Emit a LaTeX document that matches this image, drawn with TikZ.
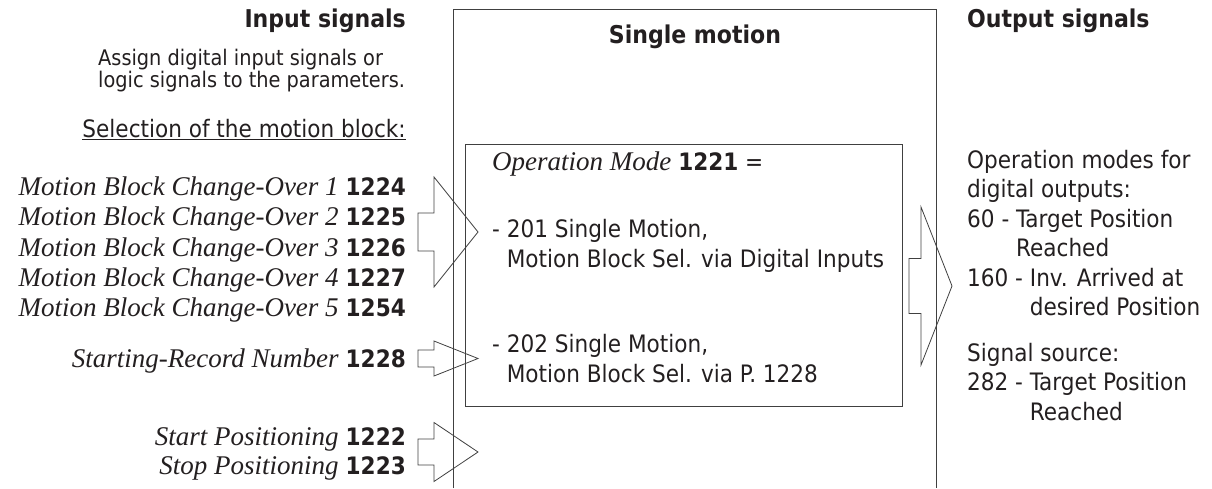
\documentclass[tikz,border=0pt]{standalone}
\usepackage{fontspec}
\setmainfont{DejaVu Sans Condensed}
\newfontfamily\serifface{Liberation Serif}
\usepackage{tikz}
\usetikzlibrary{positioning}
\usepackage{xcolor}
\definecolor{ink}{HTML}{231F20}
\definecolor{edge}{HTML}{404040}

% parameter name (serif italic) followed by its number (bold)
\newcommand{\prm}[2]{{\fontsize{27}{30}\selectfont\serifface\itshape #1}\hspace{7pt}\textbf{#2}}
% hollow block arrow: tail x, neck x, tip x, mid y, shaft half, head half
\newcommand{\blockarrow}[6]{%
  \draw[blockarrow] (#1,#4-#5) -- (#2,#4-#5) -- (#2,#4-#6) -- (#3,#4)
    -- (#2,#4+#6) -- (#2,#4+#5) -- (#1,#4+#5) -- cycle;}

\begin{document}
\begin{tikzpicture}[x=1pt,y=-1pt,
  txt/.style={inner sep=0pt,text=ink,font=\fontsize{24}{29.5}\selectfont},
  head/.style={txt,font=\fontsize{24.5}{29.5}\selectfont\bfseries},
  frame/.style={draw=edge,line width=1pt},
  blockarrow/.style={draw=edge,line width=0.8pt,line join=miter}]
\color{ink}
\useasboundingbox (0,0) rectangle (1212,488);
% FRAME 1: single motion block, open at the bottom
\draw[frame] (453,488) -- (453,9) -- (936,9) -- (936,488);
% FRAME 2: operation mode box
\node[frame,inner sep=0pt,minimum width=437pt,minimum height=262pt,anchor=north west] (mode) at (465,144) {};

% NODE 1: input side (multi-line nodes sit on their last baseline)
\node[head,anchor=base east] (insig) at (406,27) {Input signals};
\node[txt,font=\fontsize{21.5}{22}\selectfont,align=left,anchor=base west] (assign) at (98,87)
  {Assign digital input signals or\\ logic signals to the parameters.};
\node[txt,anchor=base east] (select) at (406,137) {\underline{Selection of the motion block:}};
\node[txt,anchor=base east] (mbc1) at (406,195) {\prm{Motion Block Change-Over 1}{1224}};
\node[txt,anchor=base east] (mbc2) at (406,225.5) {\prm{Motion Block Change-Over 2}{1225}};
\node[txt,anchor=base east] (mbc3) at (406,256) {\prm{Motion Block Change-Over 3}{1226}};
\node[txt,anchor=base east] (mbc4) at (406,286) {\prm{Motion Block Change-Over 4}{1227}};
\node[txt,anchor=base east] (mbc5) at (406,316.5) {\prm{Motion Block Change-Over 5}{1254}};
\node[txt,anchor=base east] (srn) at (406,367) {\prm{Starting-Record Number}{1228}};
\node[txt,anchor=base east] (startpos) at (406,445) {\prm{Start Positioning}{1222}};
\node[txt,anchor=base east] (stoppos) at (406,474) {\prm{Stop Positioning}{1223}};

% NODE 2: single motion and its operation modes
\node[head,anchor=base] (single) at (695,43) {Single motion};
\node[txt,anchor=base west] (opmode) at (492,170)
  {{\fontsize{27}{30}\selectfont\serifface\itshape Operation Mode} \textbf{1221} =};
\node[txt,align=left,anchor=base west] (sel201) at (492,267)
  {- 201 Single Motion,\\ \hphantom{- }Motion Block Sel. via Digital Inputs};
\node[txt,align=left,anchor=base west] (sel202) at (492,382)
  {- 202 Single Motion,\\ \hphantom{- }Motion Block Sel. via P. 1228};

% NODE 3: output side
\node[head,anchor=base west] (outsig) at (967,27) {Output signals};
\node[txt,align=left,anchor=base west] (digout) at (967,315.5)
  {Operation modes for\\ digital outputs:\\ 60 - Target Position\\ \hphantom{60 - }Reached\\
   160 - Inv. Arrived at\\ \hphantom{160 - }desired Position};
\node[txt,align=left,anchor=base west] (sigsrc) at (967,420)
  {Signal source:\\ 282 - Target Position\\ \hphantom{282 - }Reached};

% block arrows
\blockarrow{418}{434}{478}{232}{19}{55}
\blockarrow{418}{434}{478}{358.5}{8.5}{17.5}
\blockarrow{418}{434}{478}{452}{13}{29.5}
\blockarrow{909}{921}{952}{286}{27.5}{79}
\end{tikzpicture}
\end{document}
